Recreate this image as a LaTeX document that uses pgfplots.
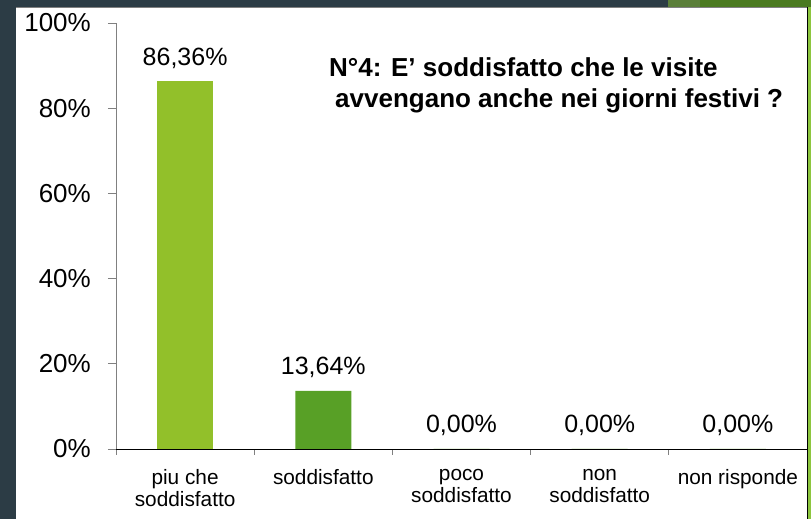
\documentclass[border=0pt]{standalone}
\usepackage{pgfplots}
\pgfplotsset{compat=1.18}
\usepackage{fontspec}
\setmainfont{Liberation Sans}
\definecolor{bgdark}{HTML}{2C3C45}
\definecolor{bggreen}{HTML}{4A7A20}
\definecolor{bgmid}{HTML}{5B7F3A}
\definecolor{stripgreen}{HTML}{8DC63F}
\definecolor{barA}{HTML}{92C02A}
\definecolor{barB}{HTML}{58A026}
\begin{document}
\begin{tikzpicture}
\useasboundingbox (0pt,0pt) rectangle (811pt,519pt);
\fill[bgdark] (0pt,0pt) rectangle (811pt,519pt);
\fill[bgmid] (668pt,500pt) rectangle (700pt,519pt);
\fill[bggreen] (700pt,500pt) rectangle (811pt,519pt);
\fill[stripgreen] (807pt,0pt) rectangle (811pt,512pt);
\fill[white] (16pt,0pt) rectangle (807pt,512pt);
\draw[gray,line width=0.8pt] (16pt,512pt) -- (807pt,512pt);
\draw[black,line width=1pt] (807pt,0pt) -- (807pt,512pt);
\begin{axis}[
  at={(116pt,70pt)}, anchor=south west,
  scale only axis, width=691pt, height=426pt,
  xmin=-0.5, xmax=4.5, ymin=0, ymax=100,
  axis x line*=bottom, axis y line*=left,
  x axis line style={black,line width=0.9pt,-},
  y axis line style={gray,line width=0.9pt,-},
  xtick={0,1,2,3,4},
  xticklabels={{piu che\\soddisfatto},{soddisfatto},{poco\\soddisfatto},{non\\soddisfatto},{non risponde}},
  xticklabel style={align=center,font=\fontsize{20.8}{22}\selectfont,text depth=0pt,inner sep=0pt,yshift=-12pt, anchor=north},
  major x tick style={draw=none},
  minor xtick={-0.5,0.5,1.5,2.5,3.5},
  minor x tick style={gray,line width=0.8pt},
  minor tick length=6pt,
  ytick={0,20,40,60,80,100},
  yticklabels={0\%,20\%,40\%,60\%,80\%,100\%},
  yticklabel style={font=\fontsize{26}{26}\selectfont,inner sep=0pt,anchor=east,xshift=-17pt},
  major y tick style={gray,line width=0.8pt},
  tick align=outside, major tick length=8pt,
  ybar, bar width=56pt,
  point meta=explicit symbolic,
  nodes near coords,
  nodes near coords style={font=\fontsize{25}{25}\selectfont,anchor=base,yshift=16pt,inner sep=0pt},
  clip=false,
]
\addplot[fill=barA,draw=none,bar shift=0pt] coordinates {(0,86.36) [86,36\%]};
\addplot[fill=barB,draw=none,bar shift=0pt] coordinates {(1,13.64) [13,64\%] (2,0) [0,00\%] (3,0) [0,00\%] (4,0) [0,00\%]};
\end{axis}
\node[anchor=base west,inner sep=0pt,font=\bfseries\fontsize{26}{26}\selectfont] at (329pt,442pt) {N°4: E’ soddisfatto che le visite};
\node[anchor=base west,inner sep=0pt,font=\bfseries\fontsize{26}{26}\selectfont] at (335pt,411pt) {avvengano anche nei giorni festivi ?};
\end{tikzpicture}
\end{document}
